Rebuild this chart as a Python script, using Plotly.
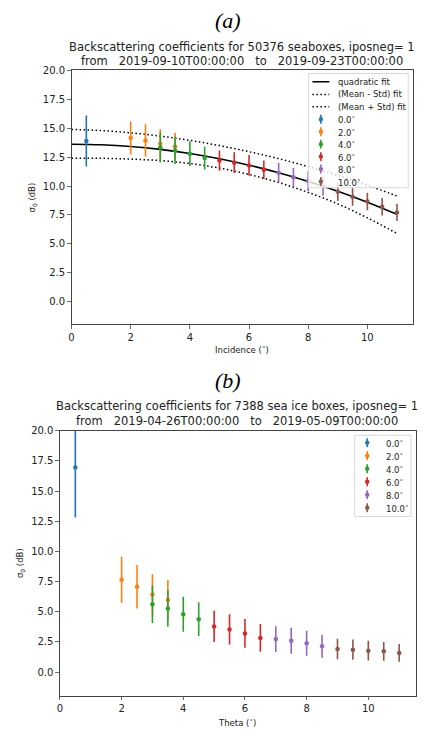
import plotly.graph_objects as go

W, H = 446, 730

# ---------------- data ----------------
group_labels = ["0.0", "2.0", "4.0", "6.0", "8.0", "10.0"]
group_colors = ["#1f77b4", "#ff7f0e", "#2ca02c", "#d62728", "#9467bd", "#8c564b"]

# panel (a): sea boxes
a_theta = [[0.5], [2, 2.5, 3, 3.5], [3, 3.5, 4, 4.5], [5, 5.5, 6, 6.5],
           [7, 7.5, 8, 8.5], [9, 9.5, 10, 10.5, 11]]
a_mean = [[13.9], [14.15, 13.95, 13.65, 13.42], [13.33, 13.08, 12.8, 12.42],
          [12.2, 12.02, 11.78, 11.4], [11.15, 10.77, 10.43, 10.0],
          [9.5, 9.08, 8.66, 8.21, 7.72]]
a_std = [[2.2], [1.43, 1.4, 1.27, 1.2], [1.3, 1.18, 1.07, 1.0],
         [0.87, 0.9, 0.9, 0.8], [0.85, 0.8, 0.85, 0.85],
         [0.8, 0.78, 0.75, 0.75, 0.75]]

fit_theta = [0, 1, 2, 3, 4, 5, 6, 7, 8, 9, 10, 11]
fit_quad = [13.62, 13.57, 13.42, 13.17, 12.82, 12.36, 11.8, 11.15, 10.4, 9.55, 8.6, 7.55]
fit_minus = [12.4, 12.4, 12.33, 12.2, 11.95, 11.55, 11.0, 10.3, 9.45, 8.45, 7.25, 5.9]
fit_plus = [14.9, 14.8, 14.6, 14.32, 13.95, 13.5, 12.97, 12.37, 11.68, 10.92, 10.07, 9.14]

# panel (b): sea ice boxes
b_theta = a_theta
b_mean = [[16.95], [7.65, 7.08, 6.43, 5.98], [5.63, 5.27, 4.8, 4.39],
          [3.79, 3.54, 3.21, 2.83], [2.74, 2.6, 2.39, 2.14],
          [1.92, 1.86, 1.78, 1.72, 1.59]]
b_std = [[4.14], [1.9, 1.8, 1.67, 1.65], [1.55, 1.5, 1.45, 1.4],
         [1.3, 1.25, 1.2, 1.15], [1.07, 1.07, 1.03, 0.95],
         [0.85, 0.84, 0.82, 0.77, 0.73]]

y_ticks = [0, 2.5, 5, 7.5, 10, 12.5, 15, 17.5, 20]
x_ticks = [0, 2, 4, 6, 8, 10]

# ---------------- helpers ----------------
def px(x):
    return x / W

def py(y):
    return 1 - y / H

FONT = "DejaVu Sans"
TXT = "#222222"
DOTTED = "1.5px,2.5px"

fig = go.Figure()

# fit lines (panel a)
fig.add_trace(go.Scatter(x=fit_theta, y=fit_quad, mode="lines", line=dict(color="black", width=1.6, shape="spline"),
                         xaxis="x", yaxis="y", showlegend=False, hoverinfo="skip"))
fig.add_trace(go.Scatter(x=fit_theta, y=fit_minus, mode="lines", line=dict(color="black", width=1.5, dash=DOTTED, shape="spline"),
                         xaxis="x", yaxis="y", showlegend=False, hoverinfo="skip"))
fig.add_trace(go.Scatter(x=fit_theta, y=fit_plus, mode="lines", line=dict(color="black", width=1.5, dash=DOTTED, shape="spline"),
                         xaxis="x", yaxis="y", showlegend=False, hoverinfo="skip"))

for xs, ms, ss, col in zip(a_theta, a_mean, a_std, group_colors):
    fig.add_trace(go.Scatter(x=xs, y=ms, mode="markers", xaxis="x", yaxis="y",
                             marker=dict(color=col, size=4.5),
                             error_y=dict(type="data", array=ss, visible=True, color=col, thickness=1.6, width=0),
                             showlegend=False))

for xs, ms, ss, col in zip(b_theta, b_mean, b_std, group_colors):
    fig.add_trace(go.Scatter(x=xs, y=ms, mode="markers", xaxis="x2", yaxis="y2",
                             marker=dict(color=col, size=4.5),
                             error_y=dict(type="data", array=ss, visible=True, color=col, thickness=1.6, width=0),
                             showlegend=False))

axis_common = dict(showgrid=False, zeroline=False, showline=True, linecolor="#444444", linewidth=1,
                   mirror=True, ticks="outside", ticklen=3.5, tickwidth=0.8, tickcolor="#444444",
                   tickfont=dict(family=FONT, size=10, color=TXT))

fig.update_layout(
    width=W, height=H, autosize=False,
    margin=dict(l=0, r=0, t=0, b=0),
    paper_bgcolor="white", plot_bgcolor="white",
    showlegend=False,
    xaxis=dict(domain=[px(69), px(413)], range=[0, 11.55], tickvals=x_ticks, anchor="y", **axis_common),
    yaxis=dict(domain=[py(321.7), py(65.9)], range=[-1.98, 20], tickvals=y_ticks,
               ticktext=[f"{v:.1f}" for v in y_ticks], anchor="x", **axis_common),
    xaxis2=dict(domain=[px(57.3), px(415.3)], range=[0, 11.53], tickvals=x_ticks, anchor="y2", **axis_common),
    yaxis2=dict(domain=[py(695.3), py(428.7)], range=[-1.94, 20], tickvals=y_ticks,
                ticktext=[f"{v:.1f}" for v in y_ticks], anchor="x2", **axis_common),
)

ann = []
def text(x, y, s, size, xanchor="center", family=FONT, angle=0, color=TXT, yanchor="middle"):
    ann.append(dict(x=px(x), y=py(y), xref="paper", yref="paper", text=s, showarrow=False,
                    xanchor=xanchor, yanchor=yanchor, textangle=angle,
                    font=dict(family=family, size=size, color=color)))

# panel labels & titles
text(227, 16, "<i>(a)</i>", 22, family="Liberation Serif", color="black")
text(241, 42, "Backscattering coefficients for 50376 seaboxes, iposneg= 1", 11.5)
text(241, 56.5, "from   2019-09-10T00:00:00   to   2019-09-23T00:00:00", 11.5)
text(241, 346, "Incidence (<sup>∘</sup>)", 8.5)
text(30, 194, "σ<sub>0</sub> (dB)", 8.5, angle=-90)

text(227, 378, "<i>(b)</i>", 22, family="Liberation Serif", color="black")
text(236, 404, "Backscattering coefficients for 7388 sea ice boxes, iposneg= 1", 11.5)
text(236, 418.5, "from   2019-04-26T00:00:00   to   2019-05-09T00:00:00", 11.5)
text(236, 721.5, "Theta (<sup>∘</sup>)", 8.5)
text(17, 562, "σ<sub>0</sub> (dB)", 8.5, angle=-90)

shapes = []
# legend (a)
shapes.append(dict(type="rect", xref="paper", yref="paper", x0=px(307.7), x1=px(408), y0=py(184), y1=py(69),
                   fillcolor="rgba(255,255,255,0.8)", line=dict(color="#d8d8d8", width=1), layer="above"))
leg_a_lines = [("quadratic fit", "solid", 77.3), ("(Mean - Std) fit", DOTTED, 90), ("(Mean + Std) fit", DOTTED, 102.5)]
for label, dash, yy in leg_a_lines:
    shapes.append(dict(type="line", xref="paper", yref="paper", x0=px(311.5), x1=px(328.5), y0=py(yy), y1=py(yy),
                       line=dict(color="black", width=1.5, dash=dash), layer="above"))
    text(335.5, yy, label, 8.5, xanchor="left")

def err_symbol(xc, yc, col):
    shapes.append(dict(type="line", xref="paper", yref="paper", x0=px(xc), x1=px(xc), y0=py(yc - 4.5), y1=py(yc + 4.5),
                       line=dict(color=col, width=1.6), layer="above"))
    shapes.append(dict(type="circle", xref="paper", yref="paper", x0=px(xc - 2.2), x1=px(xc + 2.2),
                       y0=py(yc - 2.2), y1=py(yc + 2.2), fillcolor=col, line=dict(width=0), layer="above"))

for i, (lab, col) in enumerate(zip(group_labels, group_colors)):
    yy = 115 + i * 12.55
    err_symbol(320, yy, col)
    text(335.5, yy, lab + "<sup>∘</sup>", 8.5, xanchor="left")

# legend (b)
shapes.append(dict(type="rect", xref="paper", yref="paper", x0=px(354), x1=px(410.7), y0=py(515), y1=py(433.3),
                   fillcolor="rgba(255,255,255,0.8)", line=dict(color="#d8d8d8", width=1), layer="above"))
for i, (lab, col) in enumerate(zip(group_labels, group_colors)):
    yy = 440.7 + i * 13.1
    err_symbol(366.7, yy, col)
    text(383.3, yy, lab + "<sup>∘</sup>", 8.5, xanchor="left")

fig.update_layout(annotations=ann, shapes=shapes)

# remove the default page margin so the 446x730 figure fills the window exactly
page_fix = ("document.body.style.margin='0';document.body.style.padding='0';"
            "document.documentElement.style.overflow='hidden';document.body.style.overflow='hidden';")
fig.write_html("out.html", post_script=page_fix, config=dict(displayModeBar=False, staticPlot=True))
